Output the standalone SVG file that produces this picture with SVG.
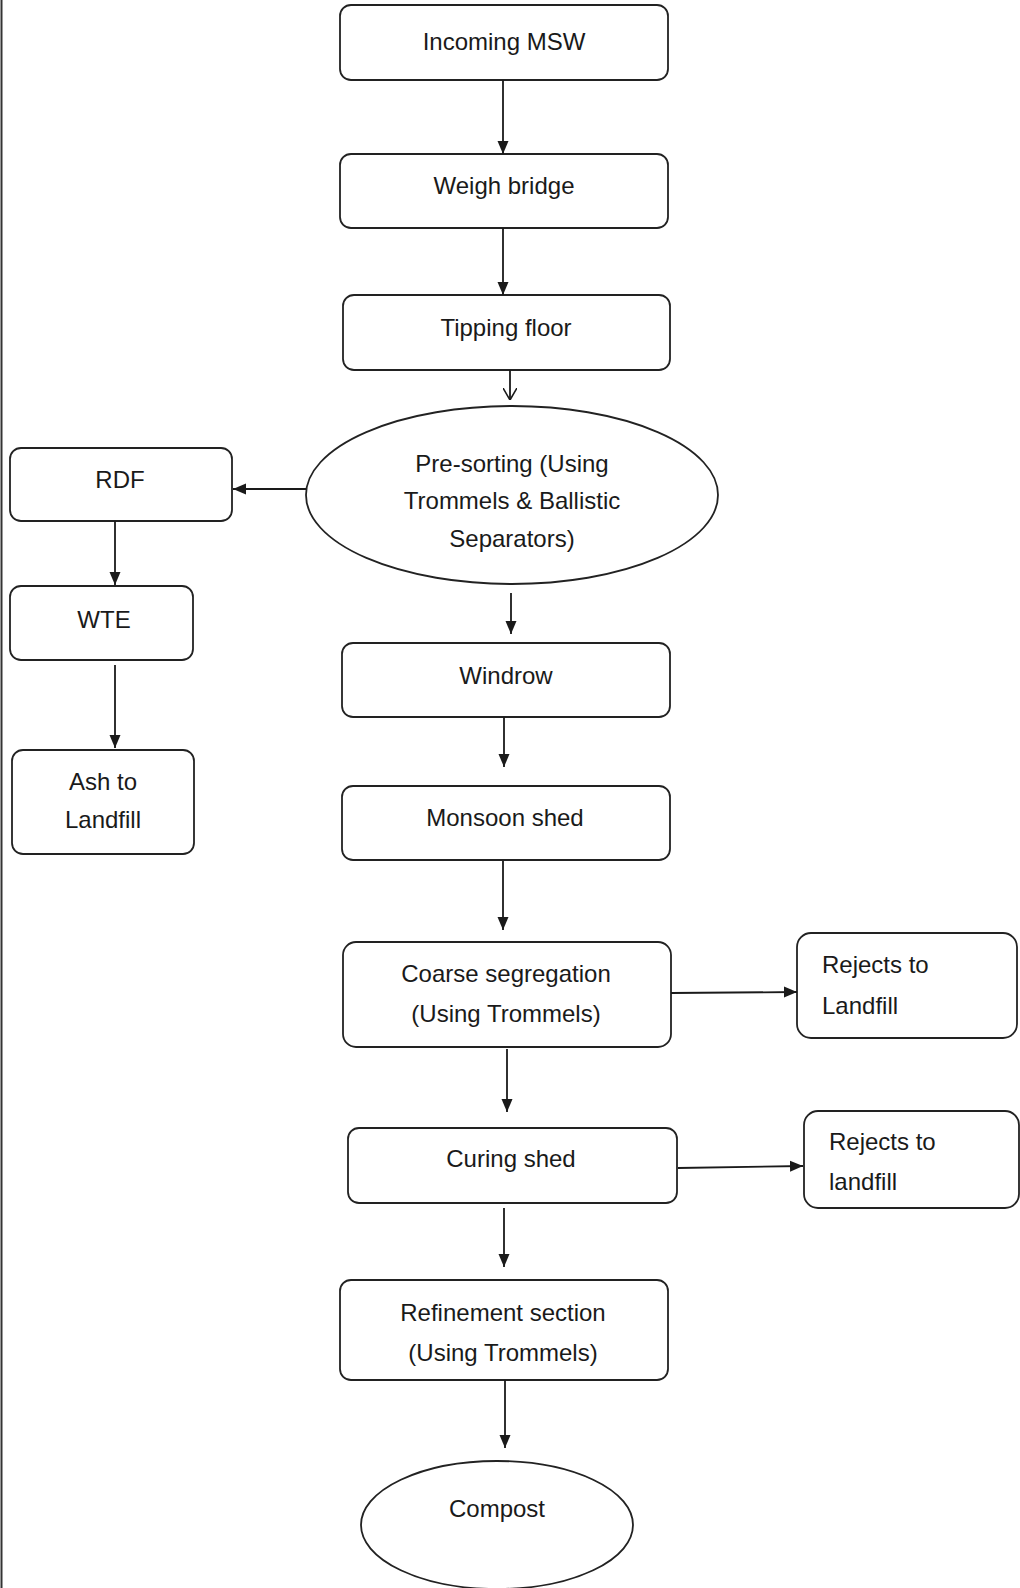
<svg xmlns="http://www.w3.org/2000/svg" width="1020" height="1588" viewBox="0 0 1020 1588">
<style>
.box{fill:#fff;stroke:#222;stroke-width:1.8}
.t{font-family:"Liberation Sans",Arial,sans-serif;font-size:24px;fill:#1a1a1a;text-anchor:middle}
.ts{font-family:"Liberation Sans",Arial,sans-serif;font-size:24px;fill:#1a1a1a;text-anchor:start}
.c{stroke:#1a1a1a;stroke-width:1.8;fill:none}
</style>
<defs>
<marker id="ah" markerWidth="13" markerHeight="13" refX="13" refY="6.5" orient="auto" markerUnits="userSpaceOnUse">
<path d="M0,1 L13,6.5 L0,12 Z" fill="#1a1a1a"/>
</marker>
<marker id="av" markerWidth="12" markerHeight="14" refX="12" refY="7" orient="auto" markerUnits="userSpaceOnUse">
<path d="M0,0 L12,7 L0,14" fill="none" stroke="#1a1a1a" stroke-width="1.6"/>
</marker>
</defs>
<rect width="1020" height="1588" fill="#fff"/>
<line x1="1.5" y1="0" x2="1.5" y2="1588" stroke="#333" stroke-width="2"/>

<g id="incoming"><rect class="box" x="340" y="5" width="328" height="75" rx="11"/><text class="t" x="504" y="50">Incoming MSW</text></g>
<g id="weigh"><rect class="box" x="340" y="154" width="328" height="74" rx="11"/><text class="t" x="504" y="194">Weigh bridge</text></g>
<g id="tipping"><rect class="box" x="343" y="295" width="327" height="75" rx="11"/><text class="t" x="506" y="336">Tipping floor</text></g>
<g id="presort"><ellipse class="box" cx="512" cy="495" rx="206" ry="89"/><text class="t" x="512" y="472">Pre-sorting (Using</text><text class="t" x="512" y="509">Trommels &amp; Ballistic</text><text class="t" x="512" y="547">Separators)</text></g>
<g id="rdf"><rect class="box" x="10" y="448" width="222" height="73" rx="11"/><text class="t" x="120" y="488">RDF</text></g>
<g id="wte"><rect class="box" x="10" y="586" width="183" height="74" rx="11"/><text class="t" x="104" y="628">WTE</text></g>
<g id="ash"><rect class="box" x="12" y="750" width="182" height="104" rx="11"/><text class="t" x="103" y="790">Ash to</text><text class="t" x="103" y="828">Landfill</text></g>
<g id="windrow"><rect class="box" x="342" y="643" width="328" height="74" rx="11"/><text class="t" x="506" y="684">Windrow</text></g>
<g id="monsoon"><rect class="box" x="342" y="786" width="328" height="74" rx="11"/><text class="t" x="505" y="826">Monsoon shed</text></g>
<g id="coarse"><rect class="box" x="343" y="942" width="328" height="105" rx="13"/><text class="t" x="506" y="982">Coarse segregation</text><text class="t" x="506" y="1022">(Using Trommels)</text></g>
<g id="rejects1"><rect class="box" x="797" y="933" width="220" height="105" rx="14"/><text class="ts" x="822" y="973">Rejects to</text><text class="ts" x="822" y="1014">Landfill</text></g>
<g id="curing"><rect class="box" x="348" y="1128" width="329" height="75" rx="11"/><text class="t" x="511" y="1167">Curing shed</text></g>
<g id="rejects2"><rect class="box" x="804" y="1111" width="215" height="97" rx="14"/><text class="ts" x="829" y="1150">Rejects to</text><text class="ts" x="829" y="1190">landfill</text></g>
<g id="refine"><rect class="box" x="340" y="1280" width="328" height="100" rx="11"/><text class="t" x="503" y="1321">Refinement section</text><text class="t" x="503" y="1361">(Using Trommels)</text></g>
<g id="compost"><ellipse class="box" cx="497" cy="1525" rx="136" ry="64"/><text class="t" x="497" y="1517">Compost</text></g>

<g id="connectors">
<line class="c" x1="503" y1="80" x2="503" y2="154" marker-end="url(#ah)"/>
<line class="c" x1="503" y1="228" x2="503" y2="295" marker-end="url(#ah)"/>
<line class="c" x1="510" y1="370" x2="510" y2="400" marker-end="url(#av)"/>
<line class="c" x1="306" y1="489" x2="233" y2="489" marker-end="url(#ah)"/>
<line class="c" x1="115" y1="521" x2="115" y2="585" marker-end="url(#ah)"/>
<line class="c" x1="115" y1="665" x2="115" y2="748" marker-end="url(#ah)"/>
<line class="c" x1="511" y1="593" x2="511" y2="634" marker-end="url(#ah)"/>
<line class="c" x1="504" y1="717" x2="504" y2="767" marker-end="url(#ah)"/>
<line class="c" x1="503" y1="861" x2="503" y2="930" marker-end="url(#ah)"/>
<line class="c" x1="507" y1="1049" x2="507" y2="1112" marker-end="url(#ah)"/>
<line class="c" x1="671" y1="993" x2="797" y2="992" marker-end="url(#ah)"/>
<line class="c" x1="678" y1="1168" x2="803" y2="1166" marker-end="url(#ah)"/>
<line class="c" x1="504" y1="1208" x2="504" y2="1267" marker-end="url(#ah)"/>
<line class="c" x1="505" y1="1380" x2="505" y2="1448" marker-end="url(#ah)"/>
</g>
</svg>
